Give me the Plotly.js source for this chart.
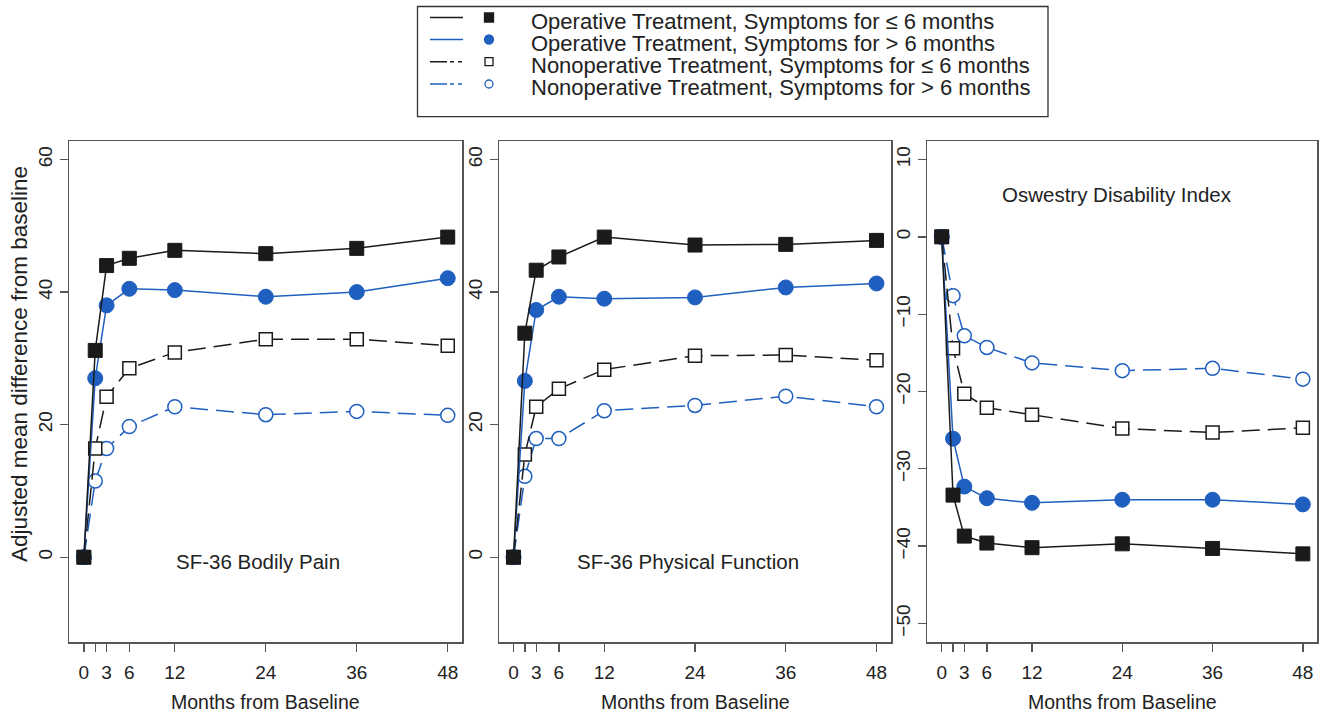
<!DOCTYPE html>
<html>
<head>
<meta charset="utf-8">
<script src="https://cdn.plot.ly/plotly-3.0.1.min.js"></script>
<style>html,body{margin:0;padding:0;background:#fff;}#chart{width:1323px;height:713px;}</style>
</head>
<body>
<div id="chart"></div>
<script>
// ---- data ----
const months = [0, 1.5, 3, 6, 12, 24, 36, 48];
const tickVals = [0, 1.5, 3, 6, 12, 24, 36, 48];
const tickText = ['0', '', '3', '6', '12', '24', '36', '48'];

const seriesNames = [
  'Operative Treatment, Symptoms for \u2264 6 months',
  'Operative Treatment, Symptoms for > 6 months',
  'Nonoperative Treatment, Symptoms for \u2264 6 months',
  'Nonoperative Treatment, Symptoms for > 6 months'
];
const panelTitles = ['SF-36 Bodily Pain', 'SF-36 Physical Function', 'Oswestry Disability Index'];

// SF-36 Bodily Pain
const bpOpShort    = [0, 31.2, 44.0, 45.1, 46.3, 45.8, 46.6, 48.3];
const bpOpLong     = [0, 27.0, 38.0, 40.5, 40.3, 39.3, 40.0, 42.1];
const bpNonopShort = [0, 16.4, 24.2, 28.5, 30.9, 32.9, 32.9, 31.9];
const bpNonopLong  = [0, 11.5, 16.4, 19.7, 22.7, 21.5, 22.0, 21.4];
// SF-36 Physical Function
const pfOpShort    = [0, 33.8, 43.3, 45.3, 48.3, 47.1, 47.2, 47.8];
const pfOpLong     = [0, 26.6, 37.3, 39.3, 39.0, 39.2, 40.7, 41.3];
const pfNonopShort = [0, 15.5, 22.7, 25.4, 28.3, 30.4, 30.5, 29.7];
const pfNonopLong  = [0, 12.2, 17.9, 17.9, 22.1, 22.9, 24.3, 22.7];
// Oswestry Disability Index
const odiOpShort    = [0, -33.4, -38.7, -39.6, -40.2, -39.7, -40.3, -41.0];
const odiOpLong     = [0, -26.1, -32.3, -33.8, -34.4, -34.0, -34.0, -34.6];
const odiNonopShort = [0, -14.4, -20.3, -22.1, -23.0, -24.8, -25.3, -24.7];
const odiNonopLong  = [0, -7.6, -12.8, -14.3, -16.3, -17.3, -17.0, -18.4];

const panels = [
  [bpOpShort, bpOpLong, bpNonopShort, bpNonopLong],
  [pfOpShort, pfOpLong, pfNonopShort, pfNonopLong],
  [odiOpShort, odiOpLong, odiNonopShort, odiNonopLong]
];
const yTicks1 = [0, 20, 40, 60];
const yTicks3 = [-50, -40, -30, -20, -10, 0, 10];

// ---- styles ----
const W = 1323, H = 713;
const BLACK = '#1a1a1a', BLUE = '#1f5fbf', AXC = '#555555', TXT = '#222222';
const FONT = 'Liberation Sans, Arial, Helvetica, sans-serif';
const px = x => x / W;
const py = y => 1 - y / H;

const styles = [
  {line: {color: BLACK, width: 1.5, dash: 'solid'}, marker: {symbol: 'square', size: 14, color: BLACK, line: {color: BLACK, width: 1}}},
  {line: {color: BLUE, width: 1.5, dash: 'solid'}, marker: {symbol: 'circle', size: 15, color: BLUE, line: {color: BLUE, width: 1}}},
  {line: {color: BLACK, width: 1.5, dash: '18px,8px'}, marker: {symbol: 'square', size: 13, color: '#ffffff', line: {color: BLACK, width: 1.5}}},
  {line: {color: BLUE, width: 1.5, dash: '18px,8px'}, marker: {symbol: 'circle', size: 14, color: '#ffffff', line: {color: BLUE, width: 1.5}}}
];

const boxes = [[69.3, 462.3], [499, 891], [927.3, 1317.3]];
const TOP = 141, BOT = 642;

const traces = [];
const drawOrder = [3, 2, 1, 0];
panels.forEach((series, p) => {
  const sfx = p === 0 ? '' : String(p + 1);
  drawOrder.forEach(i => {
    traces.push({
      x: months, y: series[i], type: 'scatter', mode: 'lines+markers',
      name: seriesNames[i], showlegend: false, hoverinfo: 'x+y',
      xaxis: 'x' + sfx, yaxis: 'y' + sfx,
      line: styles[i].line, marker: styles[i].marker, cliponaxis: false
    });
  });
});

const layout = {
  width: W, height: H,
  margin: {l: 0, r: 0, t: 0, b: 0},
  paper_bgcolor: '#ffffff', plot_bgcolor: '#ffffff',
  font: {family: FONT, size: 19, color: TXT},
  showlegend: false,
  shapes: [], annotations: []
};

boxes.forEach((b, p) => {
  const sfx = p === 0 ? '' : String(p + 1);
  const yr = p === 2 ? [-52.4, 12.4] : [-12.8, 62.8];
  layout['xaxis' + sfx] = {
    domain: [px(b[0]), px(b[1])], anchor: 'y' + sfx, range: [-1.92, 49.92],
    tickmode: 'array', tickvals: tickVals, ticktext: tickText,
    ticks: 'outside', ticklen: 8, tickwidth: 1.3, tickcolor: AXC,
    showline: true, linecolor: AXC, linewidth: 1.5, mirror: true,
    showgrid: false, zeroline: false, ticklabelstandoff: 5,
    tickfont: {family: FONT, size: 19, color: TXT}
  };
  layout['yaxis' + sfx] = {
    domain: [py(BOT), py(TOP)], anchor: 'x' + sfx, range: yr,
    tickmode: 'array', tickvals: p === 2 ? yTicks3 : yTicks1,
    ticks: 'outside', ticklen: 8, tickwidth: 1.3, tickcolor: AXC,
    showline: true, linecolor: AXC, linewidth: 1.5, mirror: true,
    showgrid: false, zeroline: false, tickangle: -90, ticklabelstandoff: 0,
    tickfont: {family: FONT, size: 19, color: TXT}
  };
  layout.annotations.push({
    xref: 'paper', yref: 'paper', x: px((b[0] + b[1]) / 2), y: py(701.5),
    text: 'Months from Baseline', showarrow: false, xanchor: 'center', yanchor: 'middle',
    font: {family: FONT, size: 19.5, color: TXT}
  });
});

// panel titles
const titlePos = [[258, 561.7], [688, 561.7], [1117.3, 194.3]];
panelTitles.forEach((t, p) => {
  layout.annotations.push({
    xref: 'paper', yref: 'paper', x: px(titlePos[p][0]), y: py(titlePos[p][1]),
    text: t, showarrow: false, xanchor: 'center', yanchor: 'middle',
    font: {family: FONT, size: 20.5, color: TXT}
  });
});

// y-axis title
layout.annotations.push({
  xref: 'paper', yref: 'paper', x: px(19), y: py(364),
  text: 'Adjusted mean difference from baseline', showarrow: false, textangle: -90,
  xanchor: 'center', yanchor: 'middle', font: {family: FONT, size: 22.5, color: TXT}
});

// legend (drawn manually: line sample, marker sample, text)
layout.shapes.push({type: 'rect', xref: 'paper', yref: 'paper',
  x0: px(417.5), x1: px(1048), y0: py(116.7), y1: py(6.5),
  line: {color: '#333333', width: 1.3}, fillcolor: 'rgba(0,0,0,0)'});
const rowY = [17.5, 39.5, 61.7, 84];
const textY = [21.7, 43.5, 65.3, 87.3];
const legDash = ['solid', 'solid', '17px,3px,4px,4px,4px,60px', '17px,3px,4px,4px,4px,60px'];
seriesNames.forEach((n, i) => {
  const yy = rowY[i];
  const col = styles[i].line.color;
  layout.shapes.push({type: 'line', xref: 'paper', yref: 'paper',
    x0: px(430), x1: px(463), y0: py(yy), y1: py(yy),
    line: {color: col, width: 1.5, dash: legDash[i]}});
  const s = i < 2 ? 4.5 : 4;
  const filled = i < 2;
  layout.shapes.push({type: i % 2 === 0 ? 'rect' : 'circle', xref: 'paper', yref: 'paper',
    x0: px(489 - s), x1: px(489 + s), y0: py(yy + s), y1: py(yy - s),
    line: {color: col, width: 1.3}, fillcolor: filled ? col : '#ffffff'});
  layout.annotations.push({xref: 'paper', yref: 'paper', x: px(529), y: py(textY[i]),
    text: n, showarrow: false, xanchor: 'left', yanchor: 'middle',
    font: {family: FONT, size: 22, color: TXT}});
});

Plotly.newPlot('chart', traces, layout, {displayModeBar: false, staticPlot: true});
</script>
</body>
</html>
